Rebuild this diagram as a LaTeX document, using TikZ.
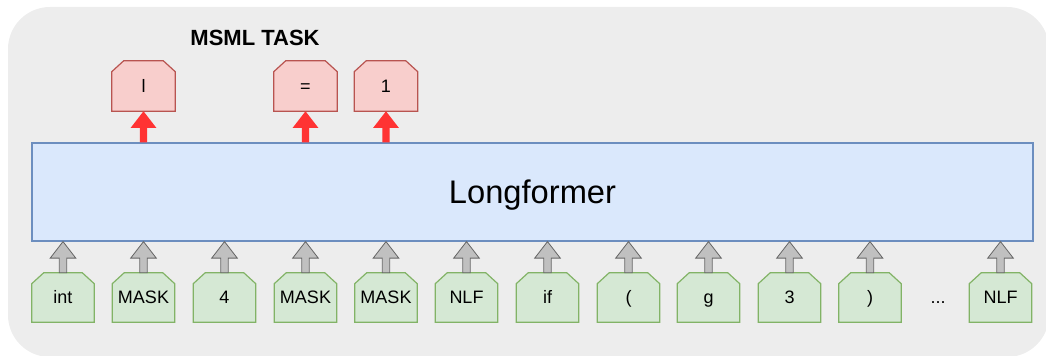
\documentclass[tikz,border=0pt]{standalone}
\usepackage{fontspec}
\setmainfont{Liberation Sans}
\usetikzlibrary{calc}
\pgfdeclarelayer{bg}
\pgfdeclarelayer{shapes}
\pgfsetlayers{bg,shapes,main}

\definecolor{panel}{HTML}{EDEDED}
\definecolor{lfFill}{HTML}{DAE8FC}
\definecolor{lfLine}{HTML}{6C8EBF}
\definecolor{tokFill}{HTML}{D5E8D4}
\definecolor{tokLine}{HTML}{82B366}
\definecolor{outFill}{HTML}{F8CECC}
\definecolor{outLine}{HTML}{B85450}
\definecolor{upRed}{HTML}{FF3333}
\definecolor{inGray}{HTML}{C0C0C0}
\definecolor{inLine}{HTML}{666666}

\newcommand\px{0.75pt}

\tikzset{
  tokbox/.style={rectangle, inner sep=0pt, minimum width=62*\px, minimum height=49*\px,
    font=\fontsize{13.5pt}{16pt}\selectfont, text height=9.67pt, text depth=0pt},
  outbox/.style={tokbox, minimum width=63*\px, minimum height=50*\px},
  tokshape/.style={fill=tokFill, draw=tokLine, line width=0.9pt},
  outshape/.style={fill=outFill, draw=outLine, line width=0.9pt},
  redarrow/.style={fill=upRed},
  grayarrow/.style={fill=inGray, draw=inLine, line width=0.6pt, line join=miter},
}

% box with its two upper corners cut off, drawn behind the node text
\newcommand\cutbox[2]{%
  \begin{pgfonlayer}{shapes}
  \path[#2] (#1.south west) -- ([yshift=-8.25pt]#1.north west) -- ([xshift=9pt]#1.north west)
    -- ([xshift=-9pt]#1.north east) -- ([yshift=-8.25pt]#1.north east) -- (#1.south east) -- cycle;
  \end{pgfonlayer}}

% wide block arrow pointing up from #1 to #2
\newcommand\blockarrow[3]{%
  \path[#3] let \p1=#1, \p2=#2 in
    (\x1-2.8pt,\y1) -- (\x1-2.8pt,\y2-12.4pt) -- (\x1-9.6pt,\y2-12.4pt) -- (\x1,\y2)
    -- (\x1+9.6pt,\y2-12.4pt) -- (\x1+2.8pt,\y2-12.4pt) -- (\x1+2.8pt,\y1) -- cycle;}

\begin{document}
\begin{tikzpicture}[x=0.75pt, y=-0.75pt]
\useasboundingbox (0,0) rectangle (1046,356);
\clip (0,0) rectangle (1046,356);

\begin{pgfonlayer}{bg}
  \fill[panel, rounded corners=31.5pt] (8,7) rectangle (1049,357);
\end{pgfonlayer}

\node[font=\fontsize{16.5pt}{20pt}\selectfont\bfseries] (title) at (255,37.5) {MSML TASK};

% encoder
\node[rectangle, fill=lfFill, draw=lfLine, line width=0.9pt, minimum width=1001*\px,
  minimum height=98*\px, inner sep=0pt, font=\fontsize{24.5pt}{28pt}\selectfont,
  text height=17.5pt, text depth=0pt] (lf) at (532.5,192) {Longformer};

% predicted tokens
\node[outbox] (o1) at (143.5,86) {l};
\node[outbox] (o2) at (305.5,86) {=};
\node[outbox] (o3) at (386,86) {1};
\foreach \b in {o1,o2,o3}{\cutbox{\b}{outshape}}

% input tokens
\node[tokbox] (t1) at (63,297.5) {int};
\node[tokbox] (t2) at (143.5,297.5) {MASK};
\node[tokbox] (t3) at (224.5,297.5) {4};
\node[tokbox] (t4) at (305.5,297.5) {MASK};
\node[tokbox] (t5) at (386,297.5) {MASK};
\node[tokbox] (t6) at (466.5,297.5) {NLF};
\node[tokbox] (t7) at (547.5,297.5) {if};
\node[tokbox] (t8) at (628.5,297.5) {(};
\node[tokbox] (t9) at (708.5,297.5) {g};
\node[tokbox] (t10) at (789.5,297.5) {3};
\node[tokbox] (t11) at (870,297.5) {)};
\node[font=\fontsize{13.5pt}{16pt}\selectfont, anchor=base] (dots) at (938,303) {...};
\node[tokbox] (t12) at (1000.5,297.5) {NLF};
\foreach \b in {t1,t2,t3,t4,t5,t6,t7,t8,t9,t10,t11,t12}{\cutbox{\b}{tokshape}}

% arrows
\foreach \b in {o1,o2,o3}{\blockarrow{(\b.south |- lf.north)}{(\b.south)}{redarrow}}
\foreach \b in {t1,t2,t3,t4,t5,t6,t7,t8,t9,t10,t11,t12}{\blockarrow{(\b.north)}{(\b.north |- lf.south)}{grayarrow}}
\end{tikzpicture}
\end{document}
